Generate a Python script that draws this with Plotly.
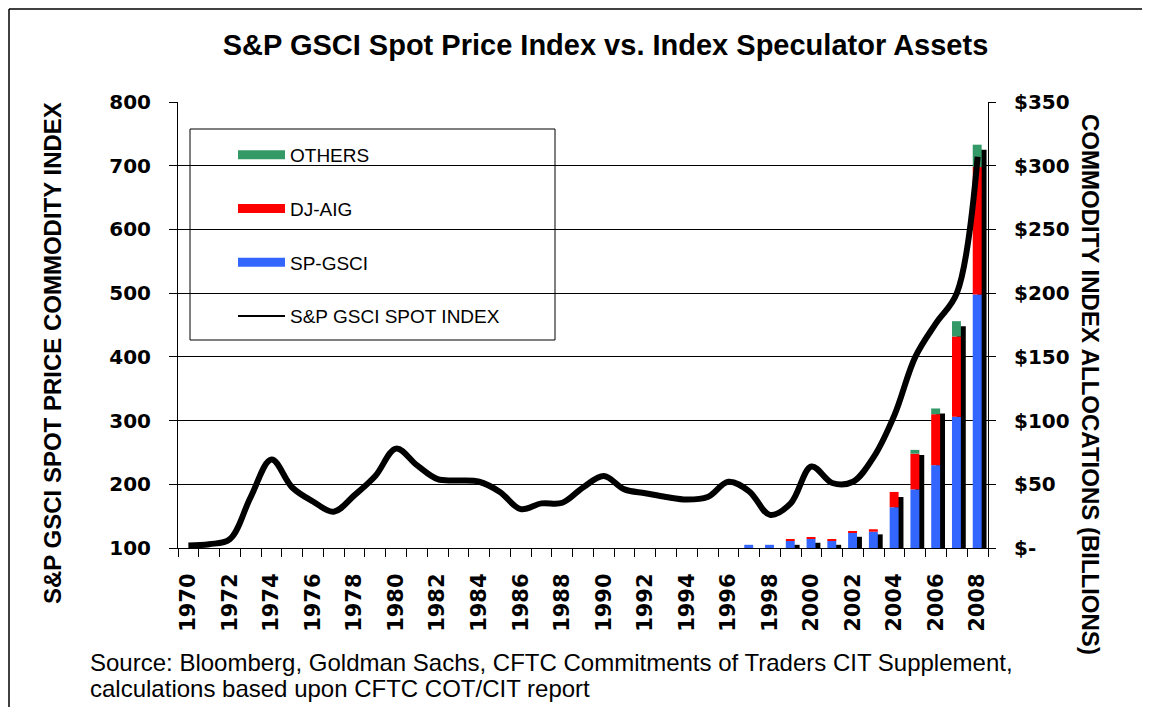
import plotly.graph_objects as go

# ---------------- data ----------------
years = list(range(1970, 2009))
spot_index = [104, 106, 114, 180, 239, 195, 173, 157, 183, 213,
              256, 230, 208, 206, 204, 188, 161, 170, 171, 195,
              213, 192, 186, 180, 176, 180, 204, 189, 152, 170,
              228, 202, 204, 243, 309, 400, 453, 500, 714]

bar_years = list(range(1997, 2009))
sp_gsci = [2.5, 2.5, 5.5, 7.3, 5.8, 11.8, 12.8, 32, 46, 65, 103, 199]
dj_aig = [0, 0, 1.0, 0.8, 0.7, 1.0, 1.9, 12, 28, 40, 63, 100]
others = [0, 0, 0, 0, 0, 0, 0, 0, 3, 4.5, 12, 17.5]

left_ticks = [100, 200, 300, 400, 500, 600, 700, 800]
right_ticks = [0, 50, 100, 150, 200, 250, 300, 350]
right_labels = ["$-", "$50", "$100", "$150", "$200", "$250", "$300", "$350"]
x_label_years = list(range(1970, 2009, 2))

title = "S&P GSCI Spot Price Index vs. Index Speculator Assets"
left_title = "S&P GSCI SPOT PRICE COMMODITY INDEX"
right_title = "COMMODITY INDEX ALLOCATIONS (BILLIONS)"
source_lines = ["Source: Bloomberg, Goldman Sachs, CFTC Commitments of Traders CIT Supplement,",
                "calculations based upon CFTC COT/CIT report"]

# ---------------- styles ----------------
BLUE = "#3366FF"
RED = "#FF0000"
GREEN = "#339966"
FONT = "Liberation Sans, Arial, sans-serif"
TICKFONT = "DejaVu Sans, Liberation Sans, sans-serif"
BAR_W = 0.43
SHADOW_DROP = 4
W, H = 1134, 699
PL, PR, PT, PB = 170, 980, 94, 540   # plot area in figure pixels


def px(xp):   # reference-screen x pixel -> paper x
    return (xp - 8 - PL) / (PR - PL)


def py(yp):   # reference-screen y pixel -> paper y
    return (PB - (yp - 8)) / (PB - PT)


totals = [a + b + c for a, b, c in zip(sp_gsci, dj_aig, others)]
base_dj = list(sp_gsci)
base_ot = [a + b for a, b in zip(sp_gsci, dj_aig)]

fig = go.Figure()

# shadow bars
fig.add_trace(go.Bar(x=bar_years, y=totals, base=[-SHADOW_DROP] * len(totals),
                     width=BAR_W, offset=0.0, marker=dict(color="black", line_width=0),
                     showlegend=False, yaxis="y", hoverinfo="skip"))
# stacked bars
fig.add_trace(go.Bar(x=bar_years, y=sp_gsci, width=BAR_W, offset=-0.235,
                     marker=dict(color=BLUE, line_width=0), showlegend=False, yaxis="y"))
fig.add_trace(go.Bar(x=bar_years, y=dj_aig, base=base_dj, width=BAR_W, offset=-0.235,
                     marker=dict(color=RED, line_width=0), showlegend=False, yaxis="y"))
fig.add_trace(go.Bar(x=bar_years, y=others, base=base_ot, width=BAR_W, offset=-0.235,
                     marker=dict(color=GREEN, line_width=0), showlegend=False, yaxis="y"))

# spot index line (on overlaying axis so it draws above bars)
fig.add_trace(go.Scatter(x=years, y=spot_index, mode="lines", yaxis="y2",
                         line=dict(color="black", width=6, shape="spline", smoothing=1.0),
                         showlegend=False))

# legend entries
for name, col, w, grp in [("OTHERS", GREEN, 9, "a"), ("DJ-AIG", RED, 9, "b"),
                          ("SP-GSCI", BLUE, 9, "c"), ("S&P GSCI SPOT INDEX", "black", 2, "d")]:
    fig.add_trace(go.Scatter(x=[None], y=[None], mode="lines", name=name,
                             legendgroup=grp, line=dict(color=col, width=w), yaxis="y"))

ytickfont = dict(size=20, family=TICKFONT, color="black", weight="bold")
xtickfont = dict(size=21, family=TICKFONT, color="black", weight="bold")

fig.update_layout(
    width=W, height=H,
    margin=dict(l=PL, r=W - PR, t=PT, b=H - PB),
    paper_bgcolor="white", plot_bgcolor="white",
    barmode="overlay",
    font=dict(family=FONT, color="black"),
    title=dict(text="<b>" + title + "</b>", x=(605.5 - 8) / W, xanchor="center",
               y=1 - (45 - 8) / H, yanchor="middle",
               font=dict(size=29, family=FONT, color="black")),
    xaxis=dict(range=[1969.5, 2008.5], tickmode="array", tickvals=x_label_years,
               ticktext=[str(y) for y in x_label_years], tickangle=-90,
               ticks="", showgrid=False, zeroline=False, showline=True,
               linecolor="black", linewidth=1,
               tickfont=xtickfont, ticklabelstandoff=16,
               minor=dict(tickmode="array", tickvals=[y - 0.5 for y in years + [2009]],
                          ticks="outside", ticklen=8, tickcolor="black", tickwidth=1,
                          showgrid=False)),
    yaxis=dict(range=[0, 350], side="right", tickmode="array", tickvals=right_ticks,
               ticktext=right_labels, showgrid=True, gridcolor="black", gridwidth=1,
               zeroline=False, showline=True, linecolor="black", linewidth=1,
               ticks="outside", ticklen=7, tickcolor="black",
               ticklabelstandoff=14, tickfont=ytickfont),
    yaxis2=dict(range=[100, 800], side="left", overlaying="y", tickmode="array",
                tickvals=left_ticks, showgrid=False, zeroline=False, showline=True,
                linecolor="black", linewidth=1, ticks="outside", ticklen=8,
                tickcolor="black", ticklabelstandoff=14, tickfont=ytickfont),
    legend=dict(x=px(233), y=py(136), xanchor="left", yanchor="top",
                bgcolor="rgba(0,0,0,0)", borderwidth=0, traceorder="grouped",
                tracegroupgap=26, itemwidth=47,
                font=dict(size=19, family=FONT, color="black")),
    shapes=[
        dict(type="rect", xref="paper", yref="paper",
             x0=px(190), x1=px(555), y0=py(340), y1=py(129),
             line=dict(color="black", width=1), fillcolor="white", layer="below"),
        dict(type="line", xref="paper", yref="paper",
             x0=px(9), x1=px(9), y0=py(9), y1=py(730),
             line=dict(color="black", width=1.5)),
        dict(type="line", xref="paper", yref="paper",
             x0=px(9), x1=px(1160), y0=py(9), y1=py(9),
             line=dict(color="black", width=1.5)),
    ],
    annotations=[
        dict(text="<b>" + left_title + "</b>", textangle=-90, xref="paper", yref="paper",
             x=px(52), y=py(353), xanchor="center", yanchor="middle",
             showarrow=False, font=dict(size=24, family=FONT, color="black")),
        dict(text="<b>" + right_title + "</b>", textangle=90, xref="paper", yref="paper",
             x=px(1091), y=py(384), xanchor="center", yanchor="middle",
             showarrow=False, font=dict(size=24, family=FONT, color="black")),
        dict(text=source_lines[0], xref="paper", yref="paper", x=px(88),
             y=py(662), xanchor="left", yanchor="middle", align="left",
             showarrow=False, font=dict(size=24, family=FONT, color="black")),
        dict(text=source_lines[1], xref="paper", yref="paper", x=px(88),
             y=py(688), xanchor="left", yanchor="middle", align="left",
             showarrow=False, font=dict(size=24, family=FONT, color="black")),
    ],
)

fig.write_html("out.html")
